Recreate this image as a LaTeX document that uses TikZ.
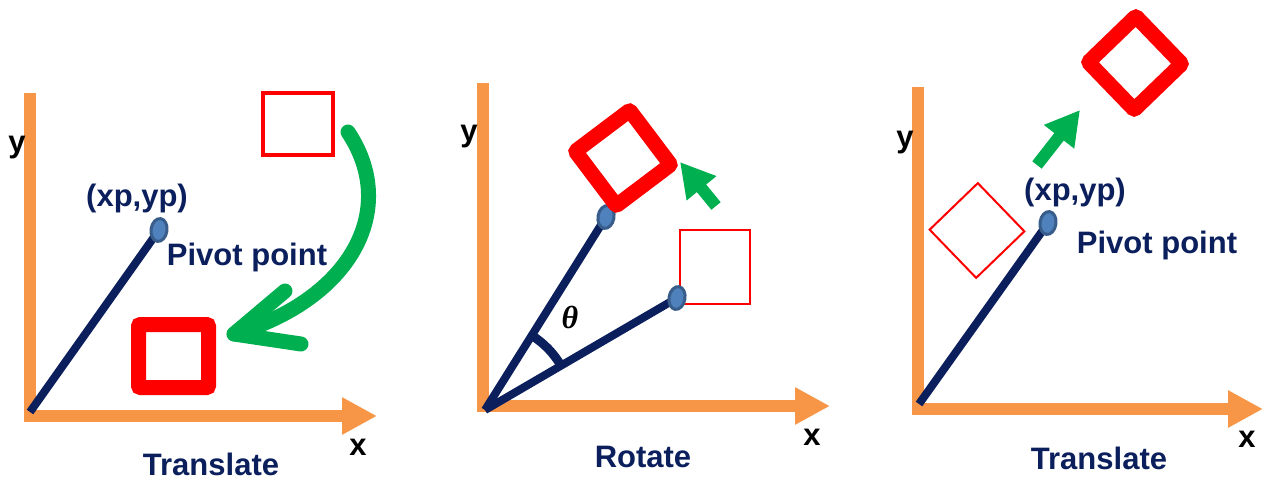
\documentclass[tikz,border=0pt]{standalone}
\usepackage{fontspec}
\setmainfont{Liberation Sans}
\newfontfamily\greekfont{Liberation Serif}
\usetikzlibrary{arrows.meta,shapes.geometric}

\definecolor{axisorange}{HTML}{F79646}
\definecolor{navy}{HTML}{0B1F5C}
\definecolor{boxred}{HTML}{FF0000}
\definecolor{movegreen}{HTML}{00B050}
\definecolor{pivotfill}{HTML}{4F81BD}
\definecolor{pivotline}{HTML}{385D8A}

\tikzset{
  axis/.style={axisorange, line width=12pt},
  axisarrow/.style={axis, -{Triangle[width=35pt,length=35pt]}},
  arm/.style={navy, line width=8pt},
  pivot/.style={ellipse, draw=pivotline, fill=pivotfill, line width=3pt,
                minimum width=16pt, minimum height=23pt, inner sep=0pt},
  thickbox/.style={rectangle, draw=boxred, line width=15pt, rounded corners=2pt,
                   inner sep=0pt},
  thinbox/.style={rectangle, draw=boxred, inner sep=0pt},
  greenblock/.style={movegreen, line width=12pt, -{Triangle[width=36pt,length=34pt]}},
  greencurve/.style={movegreen, line width=15pt, line cap=round, line join=round},
  lbl/.style={text=navy, font=\fontsize{31}{31}\selectfont\bfseries, inner sep=0pt, anchor=base},
  axlbl/.style={text=black, font=\fontsize{31}{31}\selectfont\bfseries, inner sep=0pt, anchor=base}
}

\begin{document}
\begin{tikzpicture}[x=1pt,y=-1pt]
\useasboundingbox (0,0) rectangle (1264,479);

% ---- Translate (left)
\coordinate (o1) at (30,412);
\coordinate (p1) at (159,230);
\draw[axis] (30,93) coordinate (ytop1) -- (30,422);
\draw[axisarrow] (24,416) coordinate (xbeg1) -- (377,416) coordinate (xend1);
\node[axlbl] (ylab1) at (17,152) {y};
\node[axlbl] (xlab1) at (358,455) {x};
\node[lbl] (tr1) at (211,475) {Translate};

\draw[arm] (o1) -- (p1);
\node[pivot, rotate=-8] (pv1) at (p1) {};
\node[lbl] (xy1) at (137,206) {(xp,yp)};
\node[lbl] (pp1) at (247,265) {Pivot point};

\node[thinbox, line width=4pt, minimum width=70pt, minimum height=62pt] (old1) at (297.5,124) {};
\node[thickbox, minimum width=70pt, minimum height=63pt] (new1) at (173.5,356) {};

\coordinate (c1s) at (348,132);
\coordinate (c1t) at (234,334);
\draw[greencurve] (c1s) .. controls (400,210) and (350,300) .. (c1t);
\draw[greencurve] (285,291) -- (c1t) -- (301,344);

% ---- Rotate (middle)
\coordinate (o2) at (485,410);
\coordinate (p2a) at (606,217);
\coordinate (p2b) at (677,298);
\draw[axis] (483,83) coordinate (ytop2) -- (483,412);
\draw[axisarrow] (477,406) coordinate (xbeg2) -- (830,406) coordinate (xend2);
\node[axlbl] (ylab2) at (469,141) {y};
\node[axlbl] (xlab2) at (812,445) {x};
\node[lbl] (rot2) at (643,467) {Rotate};

\draw[arm] (o2) -- (p2a);
\draw[arm] (o2) -- (p2b);
\draw[arm, line width=9pt] ([shift={(-30.3:88)}]o2) arc[start angle=-30.3, end angle=-57.9, radius=88];
\node[axlbl, font=\fontsize{32}{32}\greekfont\bfseries\itshape] (th2) at (570,328) {θ};

\node[thinbox, line width=2pt, minimum width=70pt, minimum height=74pt] (old2) at (715,267) {};
\node[pivot, rotate=-10] (pv2a) at (p2a) {};
\node[pivot, rotate=-10] (pv2b) at (p2b) {};
\node[thickbox, rotate=37, minimum size=68pt] (new2) at (623,158) {};

\coordinate (g2tail) at (716,206);
\coordinate (g2tip) at (680,162);
\draw[greenblock] (g2tail) -- (g2tip);

% ---- Translate (right)
\coordinate (o3) at (919,404);
\coordinate (p3) at (1048,223);
\draw[axis] (918,87) coordinate (ytop3) -- (918,415);
\draw[axisarrow] (912,409) coordinate (xbeg3) -- (1263,409) coordinate (xend3);
\node[axlbl] (ylab3) at (905,147) {y};
\node[axlbl] (xlab3) at (1247,447) {x};
\node[lbl] (tr3) at (1099,469) {Translate};

\node[thinbox, line width=2pt, rotate=44, minimum size=67pt] (old3) at (977,230.5) {};
\draw[arm] (o3) -- (p3);
\node[pivot, rotate=-8] (pv3) at (p3) {};
\node[lbl] (xy3) at (1075,200) {(xp,yp)};
\node[lbl] (pp3) at (1157,253) {Pivot point};

\node[thickbox, rotate=44, minimum size=66pt] (new3) at (1135,63) {};
\coordinate (g3tail) at (1037,165);
\coordinate (g3tip) at (1080,110);
\draw[greenblock] (g3tail) -- (g3tip);
\end{tikzpicture}
\end{document}
